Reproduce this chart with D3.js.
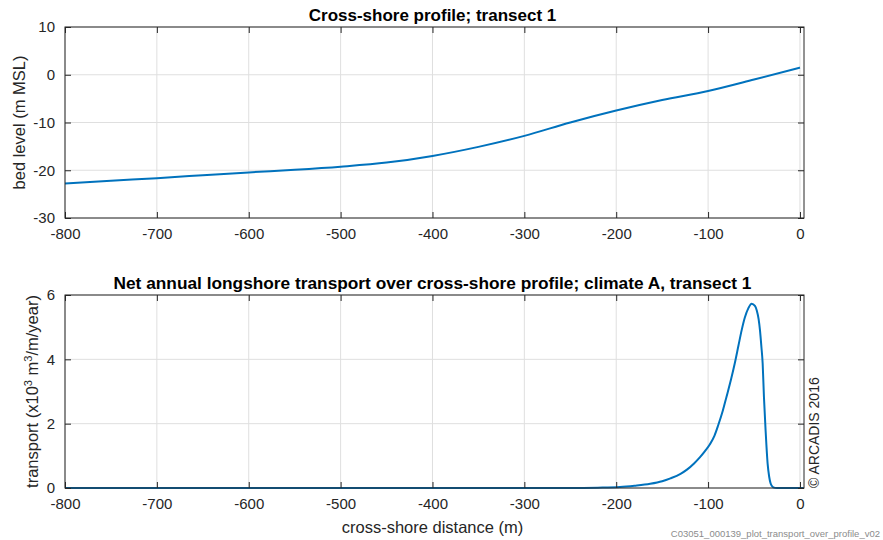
<!DOCTYPE html>
<html>
<head>
<meta charset="utf-8">
<script src="https://cdn.jsdelivr.net/npm/d3@7"></script>
<style>
  body { margin: 0; background: #fff; }
  text { font-family: "Liberation Sans", Arial, sans-serif; }
</style>
</head>
<body>
<script>
// cross-shore profile (top panel)
var profileX = [-800, -750, -700, -650, -600, -550, -500, -450, -400, -350, -300, -250, -200, -150, -100, -50, 0];
var profileZ = [-22.8, -22.2, -21.65, -21.05, -20.45, -19.9, -19.25, -18.4, -17.0, -15.1, -12.8, -10.0, -7.5, -5.3, -3.4, -1.0, 1.5];

// net annual longshore transport (bottom panel), x10^3 m3/m/year
var transX = [-800, -600, -400, -250, -220, -196, -180, -163, -150, -141, -130, -123, -115, -109, -103, -98, -93, -89, -84, -80, -75, -71, -67, -63.5, -60, -56, -52.6, -49, -47, -45, -43.5, -42, -40.6, -39.2, -37.4, -35.2, -33.5, -32, -30.5, -29, -25, 0, 4];
var transQ = [0, 0, 0, 0, 0.01, 0.03, 0.07, 0.13, 0.21, 0.3, 0.44, 0.57, 0.77, 0.95, 1.16, 1.36, 1.63, 1.95, 2.4, 2.83, 3.38, 3.87, 4.42, 4.9, 5.3, 5.6, 5.73, 5.66, 5.52, 5.25, 4.9, 4.4, 3.87, 2.83, 1.79, 0.76, 0.35, 0.15, 0.06, 0.02, 0, 0, 0];

var xTicks = [-800, -700, -600, -500, -400, -300, -200, -100, 0];
var profileTicks = [-30, -20, -10, 0, 10];
var transTicks = [0, 2, 4, 6];

var width = 883, height = 540;
var left = 65, right = 804;
var axisCol = "#262626", lineCol = "#0072BD", gridCol = "#dfdfdf";

var svg = d3.select("body").append("svg")
    .attr("width", width)
    .attr("height", height);

var x = d3.scaleLinear().domain([-800, 4.4]).range([left, right]);

function fmt(d) { return String(d); }   // plain hyphen like MATLAB

function panel(top, bottom, yDomain, yTicks, xs, ys, title, titleSize, ylabelNode, ylabelX) {
    var y = d3.scaleLinear().domain(yDomain).range([bottom, top]);
    var g = svg.append("g");

    // grid
    g.selectAll(".gx").data(xTicks).enter().append("line")
        .attr("x1", function(d) { return x(d); })
        .attr("x2", function(d) { return x(d); })
        .attr("y1", top).attr("y2", bottom)
        .attr("stroke", gridCol).attr("stroke-width", 1);
    g.selectAll(".gy").data(yTicks).enter().append("line")
        .attr("x1", left).attr("x2", right)
        .attr("y1", function(d) { return y(d); })
        .attr("y2", function(d) { return y(d); })
        .attr("stroke", gridCol).attr("stroke-width", 1);

    // data line
    var line = d3.line()
        .x(function(d) { return x(d[0]); })
        .y(function(d) { return y(d[1]); })
        .curve(d3.curveMonotoneX);
    g.append("path")
        .datum(d3.zip(xs, ys))
        .attr("d", line)
        .attr("fill", "none")
        .attr("stroke", lineCol)
        .attr("stroke-width", 2);

    // axes (inward ticks, box on)
    var xb = g.append("g").attr("transform", "translate(0," + bottom + ")")
        .call(d3.axisBottom(x).tickValues(xTicks).tickSizeInner(-6).tickSizeOuter(0).tickPadding(10).tickFormat(fmt));
    var xt = g.append("g").attr("transform", "translate(0," + top + ")")
        .call(d3.axisTop(x).tickValues(xTicks).tickSizeInner(-6).tickSizeOuter(0).tickFormat(""));
    var yl = g.append("g").attr("transform", "translate(" + left + ",0)")
        .call(d3.axisLeft(y).tickValues(yTicks).tickSizeInner(-6).tickSizeOuter(0).tickPadding(10).tickFormat(fmt));
    var yr = g.append("g").attr("transform", "translate(" + right + ",0)")
        .call(d3.axisRight(y).tickValues(yTicks).tickSizeInner(-6).tickSizeOuter(0).tickFormat(""));
    [xb, xt, yl, yr].forEach(function(a) {
        a.select(".domain").remove();
        a.selectAll("line").attr("stroke", axisCol);
        a.selectAll("text").attr("fill", axisCol).style("font-size", "15px")
            .style("font-family", "'Liberation Sans', Arial, sans-serif");
    });
    g.append("rect")
        .attr("x", left).attr("y", top)
        .attr("width", right - left).attr("height", bottom - top)
        .attr("fill", "none").attr("stroke", axisCol).attr("stroke-width", 1);

    g.append("text")
        .attr("x", (left + right) / 2 - 2).attr("y", top - 6)
        .attr("text-anchor", "middle")
        .style("font-size", titleSize + "px").style("font-weight", "bold")
        .attr("fill", "#000")
        .text(title);

    var lab = g.append("text")
        .attr("transform", "translate(" + ylabelX + "," + ((top + bottom) / 2) + ") rotate(-90)")
        .attr("text-anchor", "middle")
        .style("font-size", "16.5px")
        .attr("fill", axisCol);
    ylabelNode(lab);
}

panel(27, 218, [-30, 10], profileTicks, profileX, profileZ,
    "Cross-shore profile; transect 1", 17,
    function(t) { t.text("bed level (m MSL)"); }, 25);

panel(295, 488, [0, 6], transTicks, transX, transQ,
    "Net annual longshore transport over cross-shore profile; climate A, transect 1", 17.3,
    function(t) {
        t.append("tspan").text("transport (x10");
        t.append("tspan").attr("baseline-shift", "super").style("font-size", "11px").text("3");
        t.append("tspan").text(" m");
        t.append("tspan").attr("baseline-shift", "super").style("font-size", "11px").text("3");
        t.append("tspan").text("/m/year)");
    }, 38);

svg.append("text")
    .attr("x", (left + right) / 2 - 2).attr("y", 533)
    .attr("text-anchor", "middle")
    .style("font-size", "16.5px")
    .attr("fill", axisCol)
    .text("cross-shore distance (m)");

svg.append("text")
    .attr("transform", "translate(819,488) rotate(-90)")
    .attr("text-anchor", "start")
    .style("font-size", "14px")
    .attr("fill", axisCol)
    .text("\u00a9 ARCADIS 2016");

svg.append("text")
    .attr("x", 880).attr("y", 537)
    .attr("text-anchor", "end")
    .style("font-size", "9.5px")
    .attr("fill", "#8c8c8c")
    .text("C03051_000139_plot_transport_over_profile_v02");
</script>
</body>
</html>
